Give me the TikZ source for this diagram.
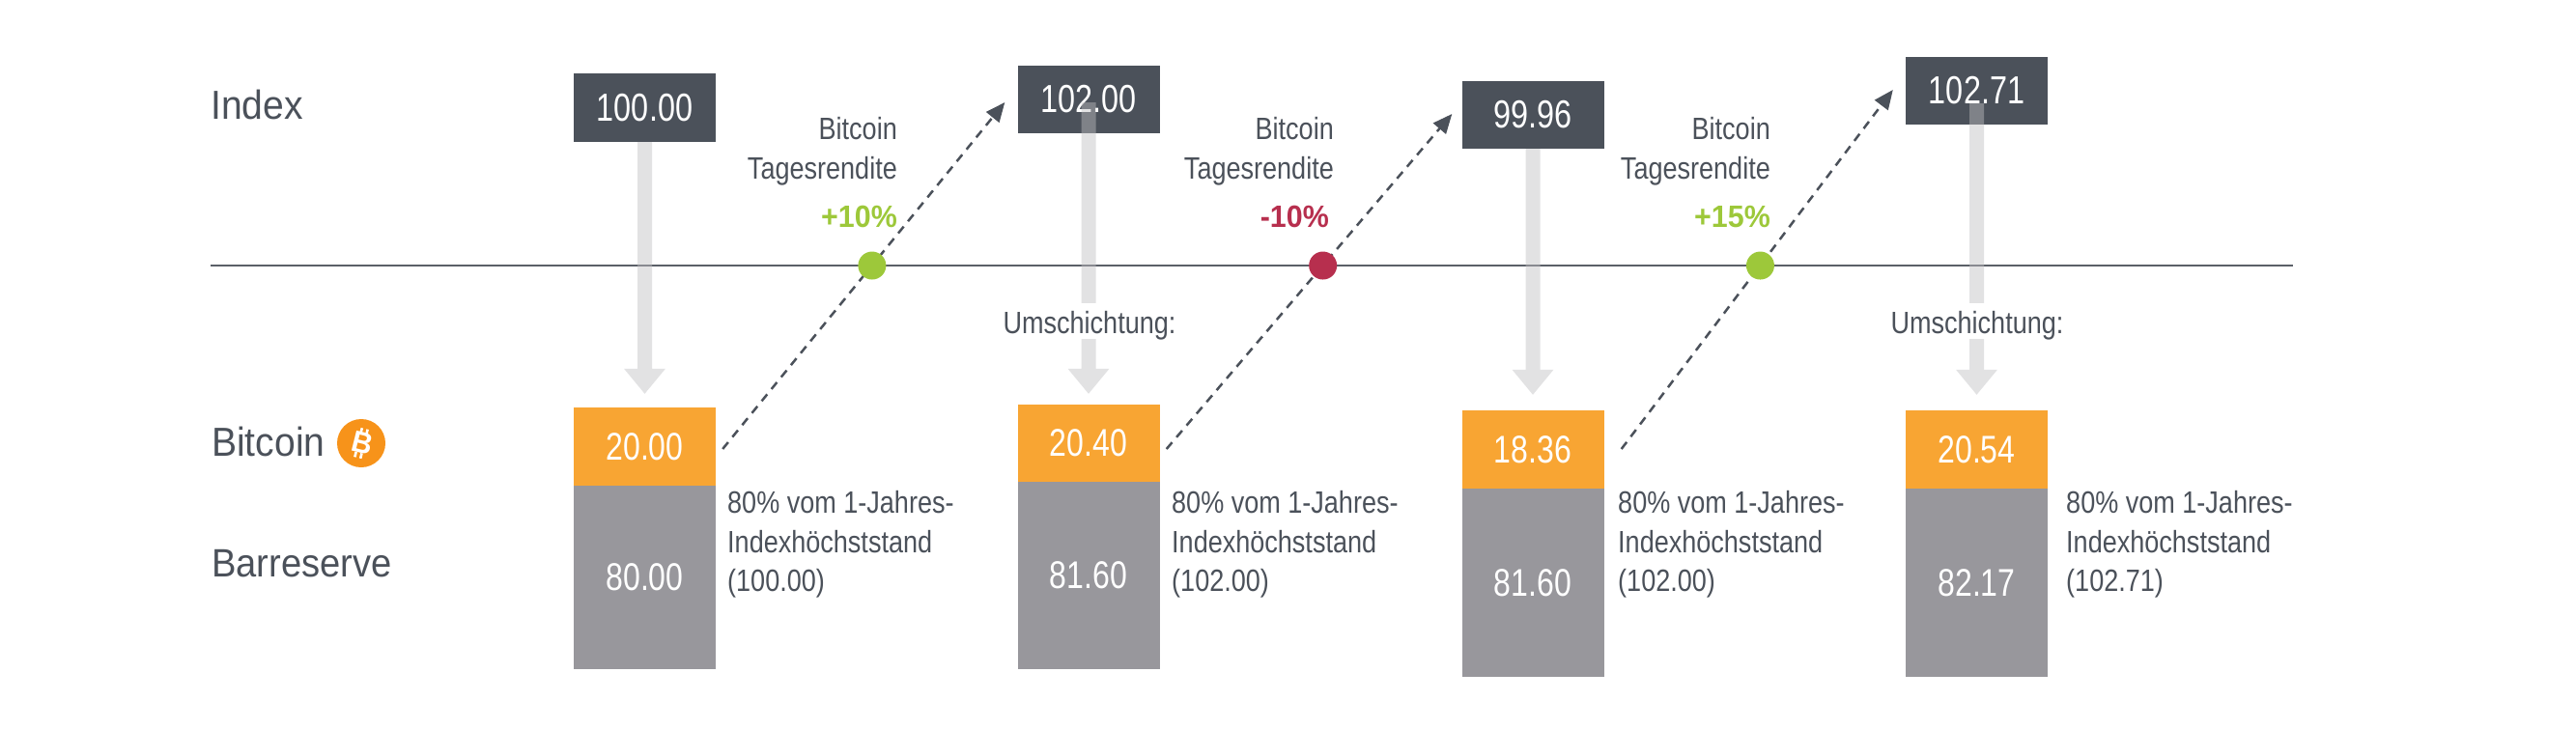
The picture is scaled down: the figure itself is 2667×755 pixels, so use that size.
\documentclass[tikz,border=0pt]{standalone}
\usepackage{fontspec}
\setmainfont{Liberation Sans}[FakeStretch=0.845]
\newfontfamily\labfont{Liberation Sans}[FakeStretch=0.93]
\newfontfamily\numfont{Liberation Sans}[FakeStretch=0.8]
\newfontfamily\pctfont{Liberation Sans}[FakeStretch=0.95]
\usetikzlibrary{arrows.meta,calc}
\definecolor{darkbox}{HTML}{4B515A}
\definecolor{txtgray}{HTML}{4B515A}
\definecolor{orangebox}{HTML}{F8A533}
\definecolor{graybox}{HTML}{98979C}
\definecolor{shaftc}{HTML}{BFBFC1}
\definecolor{upgreen}{HTML}{9DC83A}
\definecolor{downred}{HTML}{B72F4E}
\definecolor{linec}{HTML}{5B6068}
\definecolor{btcorange}{HTML}{F7931A}
\newcommand\dnarrow[2]{\fill[varrow] ($(#1)+(-7.5,0)$) -- ($(#2)+(-7.5,-26)$) -- ($(#2)+(-21.5,-26)$) -- (#2) -- ($(#2)+(21.5,-26)$) -- ($(#2)+(7.5,-26)$) -- ($(#1)+(7.5,0)$) -- cycle;}
\newcommand\notelines[3]{%
  \node[small, anchor=base west] (#1a) at (#2,531) {80\% vom 1-Jahres-};
  \node[small, anchor=base west] (#1b) at (#2,572) {Indexhöchststand};
  \node[small, anchor=base west] (#1c) at (#2,612) {(#3)};}
\begin{document}
\begin{tikzpicture}[x=1pt,y=-1pt,
  ibox/.style={fill=darkbox, text=white, minimum width=147pt, inner sep=0pt, font=\numfont\fontsize{40.5}{40.5}\selectfont},
  obox/.style={fill=orangebox, text=white, minimum width=147pt, inner sep=0pt, font=\numfont\fontsize{40}{40}\selectfont},
  gbox/.style={fill=graybox, text=white, minimum width=147pt, inner sep=0pt, font=\numfont\fontsize{40}{40}\selectfont},
  rowlabel/.style={anchor=base west, text=txtgray, inner sep=0pt, font=\labfont\fontsize{42}{42}\selectfont},
  small/.style={text=txtgray, inner sep=0pt, font=\fontsize{32}{32}\selectfont},
  pct/.style={anchor=base east, inner sep=0pt, font=\pctfont\bfseries\fontsize{32}{32}\selectfont},
  dashline/.style={draw=darkbox, line width=2.5pt, dash pattern=on 9pt off 7pt, -{Triangle[length=20pt,width=17pt]}},
  dot/.style={circle, minimum size=29pt, inner sep=0pt},
  varrow/.style={fill=shaftc, fill opacity=0.45},
  hline/.style={draw=linec, line width=2pt},
]
\useasboundingbox (0,0) rectangle (2667,755);

% row labels
\node[rowlabel] (lindex) at (218,123) {Index};
\node[rowlabel] (lbtc) at (219,472) {Bitcoin};
\node[rowlabel, font=\labfont\fontsize{41}{41}\selectfont] (lres) at (219,597) {Barreserve};
\node[circle, fill=btcorange, minimum size=50pt, inner sep=0pt] (btc) at (374,459) {};
\node[text=white, font=\pctfont\bfseries\fontsize{31}{31}\selectfont, rotate=-14, inner sep=0pt] (btcB) at ($(btc.center)+(1,0)$) {B};
\begin{scope}[shift={(btc.center)}, rotate=-14]
  \draw[white, line width=2.6pt] (-3,-10) -- (-3,-15.5) (3,-10) -- (3,-15.5) (-3,10) -- (-3,15.5) (3,10) -- (3,15.5);
\end{scope}

% horizontal line
\coordinate (lstart) at (218,275);
\coordinate (lend) at (2374,275);
\draw[hline] (lstart) -- (lend);

% index boxes
\node[ibox, minimum height=71pt] (i1) at (667.5,111.5) {100.00};
\node[ibox, minimum height=70pt] (i2) at (1127,103) {102.00};
\node[ibox, minimum height=70pt] (i3) at (1587,119) {99.96};
\node[ibox, minimum height=70pt] (i4) at (2046.5,94) {102.71};

% stacks
\node[obox, minimum height=81pt] (o1) at (667.5,462.5) {20.00};
\node[gbox, minimum height=190pt] (g1) at (667.5,598) {80.00};
\node[obox, minimum height=80pt] (o2) at (1127,459) {20.40};
\node[gbox, minimum height=194pt] (g2) at (1127,596) {81.60};
\node[obox, minimum height=81pt] (o3) at (1587,465.5) {18.36};
\node[gbox, minimum height=195pt] (g3) at (1587,603.5) {81.60};
\node[obox, minimum height=81pt] (o4) at (2046.5,465.5) {20.54};
\node[gbox, minimum height=195pt] (g4) at (2046.5,603.5) {82.17};

% vertical arrows
\coordinate (a1top) at (i1.south);
\coordinate (a1tip) at ($(o1.north)+(0,-14)$);
\coordinate (a2top) at ($(i2.center)+(0,3)$);
\coordinate (a2tip) at ($(o2.north)+(0,-11)$);
\coordinate (a3top) at (i3.south);
\coordinate (a3tip) at ($(o3.north)+(0,-16)$);
\coordinate (a4top) at ($(i4.center)+(0,13)$);
\coordinate (a4tip) at ($(o4.north)+(0,-16)$);
\dnarrow{a1top}{a1tip}
\dnarrow{a2top}{a2tip}
\dnarrow{a3top}{a3tip}
\dnarrow{a4top}{a4tip}

% Umschichtung labels
\node[small, fill=white, anchor=base, text height=31pt, text depth=6pt] (u1) at (1128,345) {Umschichtung:};
\node[small, fill=white, anchor=base, text height=31pt, text depth=6pt] (u2) at (2047,345) {Umschichtung:};

% return labels
\node[small, anchor=base east] (r1a) at (929,144) {Bitcoin};
\node[small, anchor=base east] (r1b) at (929,185) {Tagesrendite};
\node[pct, text=upgreen] (r1c) at (929,235) {+10\%};
\node[small, anchor=base east] (r2a) at (1381,144) {Bitcoin};
\node[small, anchor=base east] (r2b) at (1381,185) {Tagesrendite};
\node[pct, text=downred] (r2c) at (1376,235) {-10\%};
\node[small, anchor=base east] (r3a) at (1833,144) {Bitcoin};
\node[small, anchor=base east] (r3b) at (1833,185) {Tagesrendite};
\node[pct, text=upgreen] (r3c) at (1833,235) {+15\%};

% dashed return connectors
\coordinate (s1) at ($(o1.east)+(7,2.5)$);
\coordinate (e1) at ($(i2.west)+(-13,3)$);
\coordinate (s2) at ($(o2.east)+(7,6)$);
\coordinate (e2) at ($(i3.west)+(-10,-1)$);
\coordinate (s3) at ($(o3.east)+(18,-0.5)$);
\coordinate (e3) at ($(i4.west)+(-13,-1)$);
\draw[dashline] (s1) -- (e1);
\draw[dashline] (s2) -- (e2);
\draw[dashline] (s3) -- (e3);
\node[dot, fill=upgreen] (d1) at (intersection of s1--e1 and lstart--lend) {};
\node[dot, fill=downred] (d2) at (intersection of s2--e2 and lstart--lend) {};
\node[dot, fill=upgreen] (d3) at (intersection of s3--e3 and lstart--lend) {};

% notes
\notelines{n1}{753}{100.00}
\notelines{n2}{1213}{102.00}
\notelines{n3}{1675}{102.00}
\notelines{n4}{2139}{102.71}
\end{tikzpicture}
\end{document}
